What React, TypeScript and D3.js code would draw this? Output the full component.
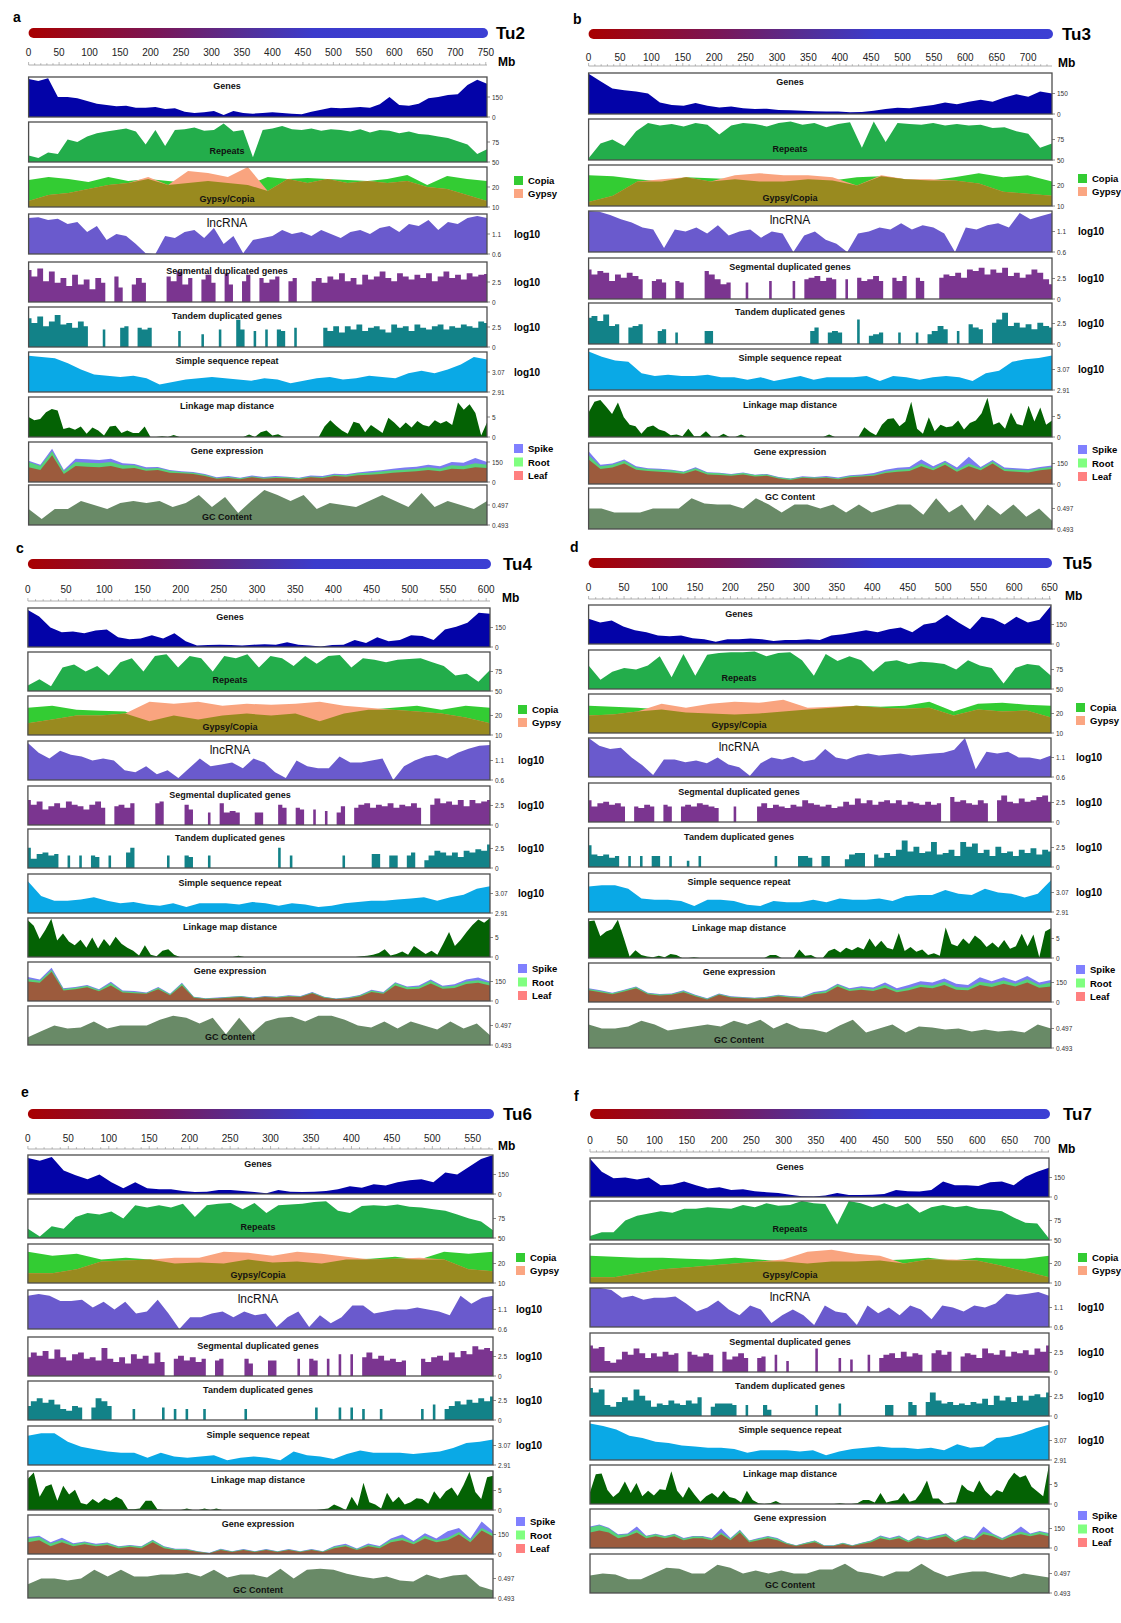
import React from 'react';
import * as d3 from 'd3';

// ---------- Tu2 (a) ----------
const tu2Genes = [285,270,290,150,150,140,120,100,90,80,85,70,70,75,60,65,40,30,35,45,15,45,30,25,30,35,30,25,20,40,55,70,65,70,75,70,95,150,90,85,100,140,150,165,170,240,280,250];
const tu2Repeats = [58,55,62,60,78,75,82,86,88,90,92,88,72,90,70,90,91,93,89,90,98,88,90,56,90,92,95,91,90,92,89,91,90,88,91,87,90,89,86,88,85,84,82,80,76,72,60,66];
const tu2Copia = [23.5,25,24,22.5,25,23,24,23,22,23,22,21,25,24,24.5,24,23.5,23,24,26,21,25.5,24,23];
const tu2Gypsy = [13,16,17,19,21,22,25,21,28,27,25,30,18,24,22,24,22,23,22,23,20,19,16,13];
const tu2Lnc = [1.5,1.52,1.45,1.48,1.35,1.4,1.15,1.3,0.95,1.1,1.05,0.85,0.62,0.6,1.05,1.0,1.15,1.2,1.0,1.25,0.85,1.05,0.62,0.95,1.0,1.05,1.2,1.1,1.15,1.05,1.2,1.1,1.0,1.15,1.2,1.1,1.25,1.3,1.15,1.35,1.3,1.45,1.2,1.4,1.35,1.5,1.55,1.5];
const tu2Seg = [4.0,3.2,4.2,2.6,3.8,2.4,3.0,2.0,3.4,2.2,2.8,1.6,3.0,2.4,0,3.2,1.8,0,2.2,3.0,2.4,0,0,0,3.2,2.6,3.8,2.2,3.0,0,2.8,3.4,2.4,0,3.6,2.2,0,2.6,3.4,0,3.0,2.4,2.8,3.2,0,2.6,3.0,0,0,2.6,3.0,2.4,3.2,2.8,3.6,2.6,3.0,2.2,3.4,2.8,3.2,3.8,3.0,2.6,3.6,3.2,2.8,3.4,3.0,3.6,2.6,3.2,3.8,3.0,3.4,2.8,3.6,3.2,3.4,3.5];
const tu2Tandem = [3.6,3.0,3.8,2.6,3.2,4.0,2.8,3.0,2.4,3.2,2.6,0,0,2.2,0,0,2.4,2.6,0,2.4,2.2,2.4,0,0,0,0,2.0,0,0,0,1.6,0,0,2.2,0,0,3.4,2.2,0,2.0,0,2.2,0,2.2,2.0,0,2.4,0,0,0,0,2.4,2.0,2.6,1.8,2.6,2.2,2.8,2.0,2.4,2.6,2.2,1.8,2.8,2.4,2.6,2.0,2.8,2.4,2.2,2.6,2.8,2.2,2.6,2.4,2.8,2.6,2.4,3.2,3.0];
const tu2Ssr = [3.20,3.19,3.18,3.14,3.09,3.05,3.04,3.03,3.04,3.02,2.97,2.99,3.01,3.02,3.03,3.02,3.01,3.00,3.02,3.01,2.98,3.00,3.02,3.03,3.01,3.02,3.04,3.03,3.02,3.06,3.08,3.06,3.09,3.13,3.19,3.17];
const tu2Link = [5.0,4.2,4.5,6.2,7.0,6.6,2.0,2.4,1.8,2.6,0.8,2.4,1.6,0.4,2.6,2.8,1.0,1.6,1.0,1.0,2.6,0,0,0.2,0,0.5,0,0,0,0,0,0,0,0,0,0,0,0,0.6,0,1.2,1.6,0.4,0.7,0,0,0,0,0,0,0,2.6,4.2,2.8,1.6,0.8,3.8,3.4,1.2,3.0,2.0,1.0,4.8,3.6,2.2,3.6,2.4,4.0,3.0,2.6,4.2,3.4,4.0,3.0,8.6,6.8,8.2,6.0,0.4,3.6];
const tu2Leaf = [110,90,200,60,120,115,110,120,100,105,85,90,70,65,60,45,25,30,20,35,25,30,28,20,35,30,45,40,50,55,60,70,75,80,90,80,100,95,110,105];
const tu2Root = [150,120,230,80,150,145,140,150,125,125,100,105,85,75,70,55,30,38,28,42,32,38,35,28,42,38,55,50,65,70,78,88,92,100,110,100,125,120,140,130];
const tu2Spike = [160,130,250,90,175,170,165,175,140,135,110,112,90,80,75,60,35,45,32,48,38,45,40,32,48,45,62,58,72,80,88,100,108,115,130,118,150,145,180,150];
const tu2Gc = [0.4962,0.4942,0.4962,0.4962,0.4978,0.497,0.4962,0.4974,0.4978,0.4974,0.4978,0.4966,0.4974,0.499,0.4966,0.4986,0.4954,0.4978,0.5,0.499,0.4978,0.499,0.4962,0.4974,0.497,0.4966,0.4978,0.499,0.4978,0.4966,0.4994,0.4966,0.4978,0.497,0.4962,0.4978];

// ---------- Tu3 (b) ----------
const tu3Genes = [294,240,186,174,165,150,84,66,60,81,60,48,54,42,36,39,30,27,24,21,18,18,12,15,24,36,45,42,54,66,84,72,90,105,90,120,144,126,165,150];
const tu3Repeats = [52,70,75,67,85,95,92,94,91,95,93,81,92,95,94,91,95,97,93,95,90,94,96,65,97,72,95,94,93,95,92,94,92,93,89,90,85,82,65,70];
const tu3Copia = [25,24.5,23,22,24,23.5,23,22,22,23,22.5,24,24.5,23,22.5,24,26,24,25,22];
const tu3Gypsy = [12,15,22,23,24,22,25,26,25,25,24,20,25,23,23,22.5,21,17,16,15];
const tu3Lnc = [1.6,1.58,1.5,1.4,1.32,1.2,1.15,0.7,1.15,1.1,1.2,1.05,1.25,1.0,1.1,1.15,0.95,1.1,1.05,0.6,1.0,1.1,0.9,0.8,0.6,1.05,1.1,1.2,1.15,1.3,1.15,1.25,1.2,1.05,0.6,1.2,1.15,1.25,1.3,1.2,1.55,1.4,1.48,1.55];
const tu3Seg = [3.6,3.0,3.4,3.2,2.2,3.0,2.6,3.2,2.8,2.4,0,2.2,2.4,2.0,0,2.2,2.0,0,0,0,3.4,3.0,2.4,1.8,2.0,0,0,2.0,0,0,0,2.2,0,0,0,2.2,0,2.4,2.6,2.8,2.2,2.6,2.4,0,2.4,0,2.6,2.2,2.4,2.8,2.2,0,2.6,2.2,2.8,0,2.6,2.2,0,0,2.6,3.0,2.8,3.2,2.6,3.6,3.4,3.8,3.0,3.6,3.2,3.8,2.8,3.2,2.6,3.0,3.6,3.2,2.4,1.8];
const tu3Tandem = [3.2,3.4,2.8,3.6,2.2,2.4,0,2.0,2.2,2.4,0,0,1.6,1.8,0,1.4,0,0,0,0,1.6,1.6,0,0,0,0,0,0,0,0,0,0,0,0,0,0,0,0,1.6,2.0,0,1.4,1.6,1.4,0,0,3.0,0,1.0,1.2,1.4,0,0,1.4,0,0,1.4,0,1.2,1.6,2.2,1.8,0,1.6,0,2.4,2.0,1.8,0,2.6,3.0,3.8,2.2,2.6,2.0,2.4,1.8,2.6,2.2,2.0];
const tu3Ssr = [3.21,3.17,3.14,3.13,3.04,3.02,3.03,3.02,3.02,3.03,3.01,3.01,2.99,3.01,2.98,3.0,3.02,2.99,3.01,3.01,3.01,3.02,2.98,3.02,3.01,2.99,3.01,3.02,3.01,2.98,3.04,3.06,3.13,3.15,3.16,3.18];
const tu3Link = [6.0,8.6,9.0,7.4,5.6,8.4,4.8,3.0,2.6,0.8,2.4,2.8,1.8,1.4,0.4,0.6,0.2,2.0,0.2,0.2,1.4,0,0,0.8,0,0,0.6,0,0,0,0,0,0,0,0,0,0,0,0,0,0,0.6,0,0,0,0,0,2.4,1.2,0.4,3.0,4.4,4.6,2.6,3.8,8.6,2.0,0.8,4.8,1.4,3.0,2.4,2.6,4.0,1.8,3.4,4.0,5.8,9.6,3.0,3.6,2.0,6.0,3.2,2.8,7.6,3.8,7.2,3.0,4.0];
const tu3Leaf = [180,110,120,150,105,95,90,85,75,100,70,65,60,70,55,60,40,30,45,40,45,35,50,55,60,80,90,95,130,100,140,90,130,100,150,95,90,85,100,110];
const tu3Root = [210,130,140,170,120,110,105,100,88,115,82,78,70,80,65,70,48,38,52,48,52,42,58,62,70,92,105,110,150,115,160,105,150,115,165,110,105,100,115,125];
const tu3Spike = [240,140,150,180,130,115,112,105,92,122,86,82,74,84,68,74,52,40,56,52,58,48,64,70,80,105,118,125,180,130,170,120,200,125,175,120,115,110,125,135];
const tu3Gc = [0.497,0.497,0.4962,0.4962,0.4962,0.497,0.497,0.497,0.499,0.498,0.4978,0.4978,0.497,0.499,0.4978,0.4962,0.4978,0.4978,0.497,0.4978,0.4962,0.4978,0.4962,0.497,0.4978,0.4978,0.4958,0.499,0.4962,0.4978,0.4946,0.4978,0.4958,0.4978,0.4954,0.497,0.4946];

// ---------- Tu4 (c) ----------
const tu4Genes = [285,234,150,114,120,105,126,135,75,60,66,90,66,105,45,12,15,18,15,12,18,21,18,36,18,12,3,15,18,54,30,75,45,54,90,84,54,135,156,186,264,255];
const tu4Repeats = [57,65,56,80,84,75,82,70,87,92,75,95,97,80,95,92,75,95,92,97,80,95,92,82,95,85,95,96,80,92,90,87,90,91,92,87,82,70,72,62,77];
const tu4Copia = [24,25,23,22.5,22,17,20,18,20,21,20,21,17,21,23,24,25,23,25,24];
const tu4Gypsy = [16,18,20,20,21,27,26,27,25,26,25.5,26,27,25,24,23,22,21,19,16];
const tu4Lnc = [1.55,1.3,1.15,1.35,1.25,1.2,1.1,1.15,1.1,0.85,0.8,0.95,0.75,0.85,0.65,0.9,1.15,0.95,1.0,1.05,0.9,1.15,1.05,0.8,0.65,1.1,0.95,0.9,0.9,1.2,1.05,1.05,1.1,1.15,0.6,0.95,1.1,1.2,1.25,1.15,1.3,1.4,1.48,1.5];
const tu4Seg = [3.2,2.6,3.0,2.0,2.4,2.8,2.2,3.0,2.6,2.4,2.0,2.6,3.0,2.2,0,2.4,2.6,2.2,2.8,0,0,0,2.8,3.0,0,0,0,2.6,2.0,0,0,1.6,0,2.8,1.6,1.8,1.6,0,0,1.6,1.6,0,0,2.6,2.2,0,2.2,2.0,0,2.0,0,1.8,0,1.6,2.4,0,2.2,2.6,2.8,2.2,2.6,2.4,2.8,2.2,2.6,2.4,2.8,2.2,0,2.6,3.4,2.8,3.0,2.6,3.2,2.4,3.2,2.8,3.0,3.2];
const tu4Tandem = [2.6,1.2,1.8,2.0,1.6,1.8,0,1.6,0,1.6,0,1.6,1.4,0,1.6,0,0,2.0,2.6,0,0,0,0,0,1.6,0,0,1.6,1.4,0,0,1.6,0,0,0,0,0,0,0,0,0,0,0,2.6,0,1.6,0,0,0,0,0,0,0,0,1.6,0,0,0,0,1.8,1.8,0,1.6,1.6,0,1.6,2.0,0,1.0,1.6,2.2,2.0,1.6,2.0,1.4,2.2,2.0,2.4,2.2,3.0];
const tu4Ssr = [3.17,3.05,3.01,3.01,3.02,3.04,3.01,2.99,3.0,2.98,2.97,2.99,2.96,2.99,2.99,2.99,2.98,3.0,2.99,2.97,2.99,2.98,2.96,2.97,2.99,3.0,3.01,3.01,3.02,3.03,3.04,3.01,3.04,3.06,3.11,3.13];
const tu4Link = [9.4,8.0,4.6,7.0,9.8,4.2,6.0,4.0,3.0,4.4,2.4,5.0,2.2,4.6,2.8,5.2,3.4,2.4,1.6,0.4,3.0,0.6,0.2,1.6,2.0,0.6,0,0,0,0,0,0,0,0,0,0,0.3,0,0,0,0,0,0,0,0,0,0,0,0,0,0,0,0,0,0,0,0,0.2,0.3,0.6,1.0,2.0,0.4,0.8,1.4,0.6,2.8,1.8,0.8,1.6,0.6,3.4,6.4,2.8,4.4,6.4,8.2,9.6,8.8,10.0];
const tu4Leaf = [150,140,225,80,90,105,75,120,65,60,55,90,45,120,25,15,20,25,30,20,30,25,35,30,60,25,15,20,35,70,55,120,90,95,135,95,100,130,140,120];
const tu4Root = [170,155,240,92,102,118,85,138,75,70,62,102,52,135,30,20,24,30,36,24,35,30,40,35,66,30,18,25,42,80,64,138,105,110,155,110,118,150,160,140];
const tu4Spike = [185,165,255,98,108,124,90,148,80,76,66,108,56,140,33,22,27,32,38,26,38,32,44,38,70,33,20,28,46,86,70,145,112,120,165,118,128,165,180,150];
const tu4Gc = [0.4946,0.4958,0.497,0.4964,0.4966,0.4978,0.4964,0.497,0.497,0.497,0.4982,0.499,0.4986,0.4974,0.4986,0.4952,0.4986,0.4954,0.4978,0.4986,0.4988,0.4978,0.499,0.499,0.4982,0.497,0.4966,0.4978,0.4964,0.4978,0.497,0.4962,0.4978,0.4964,0.4974,0.495];

// ---------- Tu5 (d) ----------
const tu5Genes = [195,165,180,135,105,90,66,60,66,45,36,18,36,36,42,36,24,30,30,36,30,66,75,90,105,90,114,126,90,150,165,225,165,114,210,195,150,210,165,186,294];
const tu5Repeats = [80,62,72,77,75,80,92,65,95,67,94,96,97,97,98,92,96,97,87,67,95,86,92,87,72,85,87,82,85,84,82,75,87,80,77,57,77,82,80,67];
const tu5Copia = [24,23.5,23,22,20.5,20,19.5,20,21,22,23,24,23.5,24,26,21,25,25.5,24.5,24];
const tu5Gypsy = [19,19.5,21,25,23,25,26,25.5,27,23,23.5,24,23,22.5,23,19,22,21,21.5,18];
const tu5Lnc = [1.6,1.4,1.32,1.35,1.1,0.9,0.65,1.05,1.05,0.98,1.02,0.95,1.1,0.92,0.85,0.63,0.95,1.1,1.05,1.12,1.0,1.05,1.32,1.1,1.05,1.15,1.2,1.15,1.18,1.2,1.15,1.18,1.2,1.22,1.3,1.6,0.8,1.25,1.2,1.25,1.1,1.1,1.05,1.15];
const tu5Seg = [2.8,2.0,2.4,2.6,2.2,2.4,2.0,0,2.0,1.8,2.2,2.0,0,2.2,2.0,0,2.0,2.2,2.0,2.4,2.2,2.0,1.8,0,0,2.0,0,0,0,2.0,2.4,1.8,2.2,2.0,1.8,2.2,2.0,2.8,2.4,2.2,2.0,2.2,1.8,2.0,2.6,2.2,3.0,2.4,2.8,2.2,2.6,2.8,2.4,2.8,2.2,2.6,2.4,2.2,2.6,2.2,2.4,0,3.2,2.6,2.8,2.4,2.2,2.8,2.4,0,2.8,3.4,2.6,2.4,3.0,2.6,2.8,3.2,3.4,2.6];
const tu5Tandem = [2.8,1.6,1.4,1.6,1.2,1.4,0,1.4,0,1.4,0,1.4,1.4,0,1.4,0,0,0.8,0,1.4,0,0,0,0,0,0,0,0,0,0,0,0,1.4,0,0,0,1.4,1.4,1.2,0,1.4,1.4,0,0,1.0,1.6,1.8,1.8,0,1.6,1.2,1.8,1.4,2.2,3.4,2.0,2.6,1.8,2.0,3.2,1.6,1.8,2.2,1.4,3.2,2.6,3.0,1.8,2.2,1.4,2.6,1.8,2.0,1.4,2.2,1.8,2.4,1.6,2.2,2.0];
const tu5Ssr = [3.12,3.13,3.13,3.10,3.02,3.01,3.01,3.0,2.96,3.01,3.01,3.0,2.97,2.96,3.0,2.99,2.99,3.01,2.99,3.02,3.01,3.01,3.02,3.0,3.04,3.05,3.05,3.09,3.06,3.05,3.10,3.07,3.06,3.03,3.06,3.17];
const tu5Link = [9.4,9.6,5.6,6.8,7.4,9.8,5.2,0.4,2.0,0.8,0.4,0.2,0.6,0.2,1.0,0.8,0,0,0.2,0,0,0,0,0,0,0,0,0,0,0,0,0.8,0.8,0,0,0,2.2,0.6,0.8,0,0,1.8,2.4,1.4,2.6,2.0,2.8,2.2,5.0,2.8,4.4,2.6,2.2,6.4,1.8,2.8,1.6,2.2,0.8,1.2,0.6,7.8,3.6,3.0,5.0,3.6,5.8,4.6,2.8,4.0,2.6,4.6,2.4,3.0,6.2,3.0,6.0,0.2,6.8,7.6];
const tu5Leaf = [90,75,60,80,105,60,50,55,75,45,20,55,35,30,25,30,45,35,30,60,70,120,85,95,85,110,75,90,115,105,130,95,90,130,115,140,120,150,110,120];
const tu5Root = [100,85,68,90,115,68,58,62,85,52,25,62,40,35,30,36,52,42,36,70,82,135,98,110,100,130,90,110,135,125,155,115,110,155,140,165,140,175,130,150];
const tu5Spike = [105,90,72,95,120,72,62,66,90,56,28,66,44,38,33,40,56,46,40,76,90,140,105,122,112,150,105,130,160,150,180,140,130,190,160,190,160,200,150,170];
const tu5Gc = [0.4978,0.497,0.497,0.4974,0.4986,0.4978,0.4966,0.497,0.4974,0.4978,0.4974,0.4986,0.4978,0.4988,0.497,0.4982,0.497,0.4968,0.4962,0.4976,0.4988,0.4962,0.497,0.4978,0.4962,0.4974,0.4972,0.4968,0.497,0.4964,0.4968,0.4964,0.4966,0.4962,0.4978,0.497];

// ---------- Tu6 (e) ----------
const tu6Genes = [276,255,285,180,144,114,150,90,45,90,45,36,36,24,15,18,30,30,24,15,6,30,18,15,18,24,36,60,48,75,66,90,105,114,90,165,150,210,270,300];
const tu6Repeats = [62,52,65,62,77,82,80,84,75,92,89,92,89,94,77,92,94,95,87,95,82,92,93,94,96,97,85,82,91,92,91,93,90,89,87,85,80,75,71,60];
const tu6Copia = [26,24,25,22,23,22,20,20.5,20,22,20.5,21,20,22,22.5,23.5,22,26,25,26];
const tu6Gypsy = [15,15,17,21,21.5,22,23,23,26,25.5,24,26,25,23.5,22,22.5,23,22,17,16];
const tu6Lnc = [1.45,1.5,1.45,1.32,1.32,1.35,1.15,1.3,1.1,1.3,1.0,1.05,1.35,1.0,0.6,0.9,0.9,1.0,1.05,0.9,1.05,0.95,1.0,0.65,0.9,1.05,0.65,0.95,0.75,0.9,1.2,1.2,1.0,1.05,1.1,1.1,1.15,1.1,1.05,0.95,1.45,1.25,1.4,1.45];
const tu6Seg = [2.4,3.0,2.6,3.2,2.2,3.4,2.4,2.0,2.8,3.0,2.2,2.4,2.0,3.6,2.2,1.8,2.4,1.6,2.8,2.2,2.6,1.6,3.0,1.8,0,2.2,2.6,2.0,2.4,1.8,2.2,0,2.0,2.2,0,0,0,2.2,1.6,0,0,2.0,2.0,0,0,0,2.2,0,2.2,2.0,0,2.2,0,2.8,0,2.8,0,2.4,3.0,2.2,2.6,2.0,2.2,1.8,2.0,0,0,2.2,1.8,2.4,2.6,2.0,3.0,2.4,3.2,2.8,3.8,3.4,3.6,3.2];
const tu6Tandem = [1.8,2.4,2.8,2.2,2.6,2.0,1.4,1.2,1.8,1.6,0,1.6,2.8,2.4,1.8,0,0,0,1.4,0,0,0,0,1.6,0,1.4,0,1.4,0,0,1.4,0,0,0,0,0,0,1.4,0,0,0,0,0,0,0,0,0,0,0,1.6,0,0,0,1.6,0,1.6,0,1.4,0,0,1.4,0,0,0,0,0,0,1.4,0,2.0,0,1.4,1.8,2.4,2.0,2.6,2.2,2.8,2.4,3.0];
const tu6Ssr = [3.15,3.17,3.17,3.10,3.06,3.04,3.02,3.01,3.01,2.97,3.01,2.98,2.97,2.98,2.99,2.95,2.97,2.98,2.97,2.95,3.02,2.99,2.98,2.96,3.0,3.03,3.01,3.01,3.01,3.0,3.01,3.02,3.05,3.09,3.10,3.12];
const tu6Link = [8.0,9.6,3.4,6.0,6.6,2.4,6.2,4.0,5.2,1.8,1.4,2.8,1.8,3.0,2.4,3.4,2.6,0.2,0.2,0.4,2.4,2.4,0.2,0,0,0,0,0.4,0,0,0.4,0,0.4,0,0,0,0,0,0,0,0,0,0,0,0,0,0,0,0,0,0.2,0.4,1.4,0.8,0,3.4,1.0,7.0,2.0,1.4,0.4,4.4,2.0,3.4,1.4,2.0,3.0,2.8,1.6,4.8,2.8,4.8,5.8,3.6,6.4,9.8,4.6,2.8,8.4,8.8];
const tu6Leaf = [90,105,60,90,60,75,60,70,45,55,45,90,45,30,30,15,5,30,15,30,15,30,15,30,15,30,15,45,60,30,60,45,90,105,75,120,90,105,150,90,180,135];
const tu6Root = [120,130,80,110,75,90,72,82,55,65,55,105,55,36,36,20,8,36,20,35,20,35,20,35,20,35,20,55,70,38,72,55,108,125,90,140,105,125,170,105,200,155];
const tu6Spike = [130,140,90,125,82,96,78,88,60,70,60,110,60,40,40,22,10,40,22,38,22,38,22,38,22,38,22,62,78,42,80,62,120,150,100,160,120,175,200,120,250,175];
const tu6Gc = [0.4958,0.497,0.497,0.4966,0.497,0.4988,0.4974,0.4988,0.4974,0.4974,0.4978,0.4978,0.4982,0.4974,0.4988,0.4972,0.4978,0.4978,0.4972,0.499,0.497,0.4988,0.499,0.4988,0.498,0.4974,0.497,0.4974,0.4966,0.4964,0.4978,0.497,0.4976,0.4978,0.4954,0.4946];

// ---------- Tu7 (f) ----------
const tu7Genes = [294,195,144,150,135,150,90,96,120,90,66,75,54,60,45,36,30,18,6,3,12,30,15,15,18,24,54,45,42,54,120,90,90,84,114,120,90,156,195,225];
const tu7Repeats = [55,60,60,75,81,84,87,85,90,90,92,91,90,95,92,97,94,95,100,97,96,70,100,97,92,97,92,97,85,92,95,92,94,90,89,87,79,72,71,52];
const tu7Copia = [24,23.5,23,23,22.5,22,23,22,21,20,21,21,21.5,22,23,21.5,23,22.5,22.5,24];
const tu7Gypsy = [13,13,15,17,18,19,20,21,22,26,27,25,24,20,22,22,21.5,19,16,13];
const tu7Lnc = [1.6,1.6,1.55,1.35,1.4,1.3,1.35,1.35,1.38,1.2,1.0,1.1,1.28,1.05,0.9,1.15,1.05,0.7,0.9,1.05,0.9,0.65,1.15,1.0,0.95,0.65,1.15,0.95,1.1,0.9,1.15,1.05,0.8,1.15,1.1,1.0,1.15,1.1,1.2,1.45,1.42,1.45,1.5,1.4];
const tu7Seg = [3.4,3.0,3.2,1.4,1.2,1.6,2.6,2.2,3.0,2.4,1.8,2.4,2.0,2.6,2.2,2.4,0,2.6,2.2,2.0,2.4,2.2,0,2.6,1.6,2.0,2.4,1.8,0,1.8,2.0,0,2.2,0,1.4,0,0,0,0,3.0,0,0,0,1.8,0,1.6,0,0,2.2,0,1.8,2.2,2.4,1.8,2.6,2.0,2.4,2.2,0,2.4,2.8,2.2,2.6,0,2.0,2.4,2.2,1.8,3.0,2.4,2.2,2.8,2.0,2.6,2.4,2.8,2.2,3.0,2.6,3.4];
const tu7Tandem = [3.6,3.0,3.4,1.4,1.2,1.8,2.4,2.0,3.4,2.6,2.0,1.2,1.6,1.4,2.0,1.6,1.4,2.0,1.6,2.4,0,1.2,1.6,1.6,1.6,1.4,0,1.4,0,0,1.4,0.8,0,0,0,0,0,0,0,1.4,0,0,0,1.6,0,0,0,0,0,0,0,1.4,1.4,0,0,1.8,1.4,0,1.8,3.0,2.0,1.6,1.8,1.4,1.6,1.4,1.8,1.6,2.2,1.4,2.6,2.0,2.4,1.8,2.6,2.0,2.6,2.8,2.4,3.0];
const tu7Ssr = [3.21,3.19,3.16,3.11,3.09,3.06,3.05,3.03,3.02,3.01,3.01,3.0,2.97,2.99,2.99,2.99,2.98,2.99,2.95,2.98,3.0,3.01,3.02,3.01,3.01,3.0,3.01,2.99,3.04,3.01,3.02,3.09,3.10,3.13,3.17,3.20];
const tu7Link = [3.0,7.6,7.8,3.6,1.8,3.0,5.8,2.8,5.4,2.0,3.4,2.2,3.8,3.6,8.4,3.4,1.6,4.4,2.4,0.6,2.0,2.8,1.6,3.4,1.8,1.4,0.4,3.4,1.0,0.2,0,0.2,0.8,0,0,0,0,0,0,0,0,0,0,0.2,0,0,0.2,1.0,1.0,0.4,2.8,0.4,0.8,1.0,2.8,0.6,1.0,3.0,6.0,1.4,1.4,0,0.4,0.4,5.0,3.6,3.0,6.0,3.4,2.0,3.6,3.0,6.0,8.0,6.8,7.4,4.4,3.2,2.0,10.0];
const tu7Leaf = [120,135,120,75,90,120,75,90,75,90,60,75,75,60,105,60,120,45,60,75,60,30,15,30,45,15,15,30,15,30,45,75,60,75,45,75,60,75,90,45,75,60,105,90,60,90,105,90,105,90];
const tu7Root = [160,175,150,100,105,140,90,105,88,105,72,88,88,72,120,72,135,55,72,88,72,38,20,38,55,20,20,38,20,38,55,90,72,90,55,90,72,90,105,55,90,72,125,105,72,105,125,105,125,110];
const tu7Spike = [165,180,155,105,112,165,95,110,92,110,76,92,92,76,150,76,140,58,76,92,76,40,22,40,58,22,22,40,22,40,58,96,76,96,58,96,76,96,112,58,96,76,165,112,76,112,165,112,130,115];
const tu7Gc = [0.4966,0.497,0.4968,0.4958,0.4958,0.497,0.4982,0.498,0.497,0.497,0.4988,0.4982,0.497,0.4976,0.497,0.4976,0.497,0.497,0.4978,0.4978,0.499,0.4974,0.497,0.4964,0.4974,0.4974,0.499,0.4974,0.4964,0.497,0.4974,0.4974,0.4968,0.4962,0.497,0.4966,0.4962];

const FONT = "'Liberation Sans', Arial, Helvetica, sans-serif";

// track scales: bottom value, middle tick value (top = 2*mid - bottom)
const tracks = [
  { lo: 0, mid: 150, midLabel: '150', loLabel: '0', title: 'Genes', where: 'top' },
  { lo: 50, mid: 75, midLabel: '75', loLabel: '50', title: 'Repeats', where: 'bottom' },
  { lo: 10, mid: 20, midLabel: '20', loLabel: '10', title: 'Gypsy/Copia', where: 'bottom' },
  { lo: 0.6, mid: 1.1, midLabel: '1.1', loLabel: '0.6', title: 'lncRNA', where: 'top', log: true },
  { lo: 0, mid: 2.5, midLabel: '2.5', loLabel: '0', title: 'Segmental duplicated genes', where: 'top', log: true },
  { lo: 0, mid: 2.5, midLabel: '2.5', loLabel: '0', title: 'Tandem duplicated genes', where: 'top', log: true },
  { lo: 2.91, mid: 3.07, midLabel: '3.07', loLabel: '2.91', title: 'Simple sequence repeat', where: 'top', log: true },
  { lo: 0, mid: 5, midLabel: '5', loLabel: '0', title: 'Linkage map distance', where: 'top' },
  { lo: 0, mid: 150, midLabel: '150', loLabel: '0', title: 'Gene expression', where: 'top' },
  { lo: 0.493, mid: 0.497, midLabel: '0.497', loLabel: '0.493', title: 'GC Content', where: 'bottom' },
];

const col = {
  genes: '#0303a8', repeats: '#23ad4b', copia: '#33cc33', gypsy: '#f9a47f', olive: '#998a1f',
  lnc: '#6a5acd', seg: '#7b3590', tandem: '#128288', ssr: '#0aa9e6', link: '#046204',
  spike: '#7b7bf2', root: '#56d27a', leaf: '#9c5b3d', gc: '#698a67',
};

const panels = [
  { letter: 'a', name: 'Tu2', length: 752, letterX: 13, letterY: 17, barY: 28, nameX: 496, mbX: 498, tickY: 52, axisY: 65, x0: 28.6, x1: 487,
    tops: [77, 122, 167, 214, 262, 307, 352, 397, 442, 485], h: 40, titleX: 227, legendX: 514, gcTop: false,
    genes: tu2Genes, repeats: tu2Repeats, copia: tu2Copia, gypsy: tu2Gypsy, lnc: tu2Lnc, seg: tu2Seg, tandem: tu2Tandem, ssr: tu2Ssr, link: tu2Link, leaf: tu2Leaf, root: tu2Root, spike: tu2Spike, gc: tu2Gc },
  { letter: 'b', name: 'Tu3', length: 738, letterX: 573, letterY: 19, barY: 29, nameX: 1062, mbX: 1058, tickY: 57, axisY: 66, x0: 588.6, x1: 1052,
    tops: [73, 119, 165, 211, 258, 303, 349, 396, 443, 488], h: 41, titleX: 790, legendX: 1078, gcTop: true,
    genes: tu3Genes, repeats: tu3Repeats, copia: tu3Copia, gypsy: tu3Gypsy, lnc: tu3Lnc, seg: tu3Seg, tandem: tu3Tandem, ssr: tu3Ssr, link: tu3Link, leaf: tu3Leaf, root: tu3Root, spike: tu3Spike, gc: tu3Gc },
  { letter: 'c', name: 'Tu4', length: 605, letterX: 16, letterY: 548, barY: 559, nameX: 503, mbX: 502, tickY: 589, axisY: 601, x0: 27.9, x1: 490,
    tops: [608, 652, 696, 741, 786, 829, 874, 918, 962, 1006], h: 39, titleX: 230, legendX: 518, gcTop: false,
    genes: tu4Genes, repeats: tu4Repeats, copia: tu4Copia, gypsy: tu4Gypsy, lnc: tu4Lnc, seg: tu4Seg, tandem: tu4Tandem, ssr: tu4Ssr, link: tu4Link, leaf: tu4Leaf, root: tu4Root, spike: tu4Spike, gc: tu4Gc },
  { letter: 'd', name: 'Tu5', length: 652, letterX: 570, letterY: 547, barY: 558, nameX: 1063, mbX: 1065, tickY: 587, axisY: 599, x0: 588.6, x1: 1051,
    tops: [605, 650, 694, 738, 783, 828, 873, 919, 963, 1009], h: 39, titleX: 739, legendX: 1076, gcTop: false,
    genes: tu5Genes, repeats: tu5Repeats, copia: tu5Copia, gypsy: tu5Gypsy, lnc: tu5Lnc, seg: tu5Seg, tandem: tu5Tandem, ssr: tu5Ssr, link: tu5Link, leaf: tu5Leaf, root: tu5Root, spike: tu5Spike, gc: tu5Gc },
  { letter: 'e', name: 'Tu6', length: 575, letterX: 21, letterY: 1092, barY: 1109, nameX: 503, mbX: 498, tickY: 1138, axisY: 1149, x0: 27.9, x1: 493,
    tops: [1155, 1199, 1244, 1290, 1337, 1381, 1426, 1471, 1515, 1559], h: 39, titleX: 258, legendX: 516, gcTop: false,
    genes: tu6Genes, repeats: tu6Repeats, copia: tu6Copia, gypsy: tu6Gypsy, lnc: tu6Lnc, seg: tu6Seg, tandem: tu6Tandem, ssr: tu6Ssr, link: tu6Link, leaf: tu6Leaf, root: tu6Root, spike: tu6Spike, gc: tu6Gc },
  { letter: 'f', name: 'Tu7', length: 711, letterX: 574, letterY: 1096, barY: 1109, nameX: 1063, mbX: 1058, tickY: 1140, axisY: 1152, x0: 590, x1: 1049,
    tops: [1158, 1201, 1244, 1288, 1333, 1377, 1421, 1465, 1509, 1554], h: 39, titleX: 790, legendX: 1078, gcTop: false,
    genes: tu7Genes, repeats: tu7Repeats, copia: tu7Copia, gypsy: tu7Gypsy, lnc: tu7Lnc, seg: tu7Seg, tandem: tu7Tandem, ssr: tu7Ssr, link: tu7Link, leaf: tu7Leaf, root: tu7Root, spike: tu7Spike, gc: tu7Gc },
];

type P = typeof panels[number];

const Panel = ({ p }: { p: P }) => {
  const x = d3.scaleLinear().domain([0, p.length]).range([p.x0, p.x1]);
  const yOf = (t: number) => {
    const d = tracks[t];
    return d3.scaleLinear().domain([d.lo, 2 * d.mid - d.lo]).range([p.tops[t] + p.h, p.tops[t]]).clamp(true);
  };
  const area = (vals: number[], t: number) => {
    const y = yOf(t);
    const n = vals.length;
    return d3.area<number>()
      .x((_, i) => x((i / (n - 1)) * p.length))
      .y0(p.tops[t] + p.h)
      .y1(v => y(v))(vals) || '';
  };
  // binned counts: step outline; a bin standing alone (or ending a run) is drawn narrower
  const bins = (vals: number[], t: number) => {
    const y = yOf(t);
    const step = p.length / (vals.length - 1);
    const pts: [number, number][] = [[0, 0]];
    vals.forEach((v, i) => {
      if (v <= 0) return;
      const c = i * step;
      const prev = i > 0 && vals[i - 1] > 0;
      const next = i < vals.length - 1 && vals[i + 1] > 0;
      const xl = Math.max(0, c - (prev ? 0.5 : 0.22) * step);
      const xr = Math.min(p.length, c + (next ? 0.5 : 0.22) * step);
      if (!prev) pts.push([xl, 0]);
      pts.push([xl, v], [xr, v]);
      if (!next) pts.push([xr, 0]);
    });
    pts.push([p.length, 0]);
    return d3.area<[number, number]>()
      .x(d => x(d[0]))
      .y0(p.tops[t] + p.h)
      .y1(d => y(d[1]))(pts) || '';
  };
  const teMin = p.copia.map((c, i) => Math.min(c, p.gypsy[i]));
  const majors = d3.range(0, p.length + 0.01, 50);
  const minors = d3.range(0, p.length, 10);

  const fills: [string, string][][] = [
    [[area(p.genes, 0), col.genes]],
    [[area(p.repeats, 1), col.repeats]],
    [[area(p.copia, 2), col.copia], [area(p.gypsy, 2), col.gypsy], [area(teMin, 2), col.olive]],
    [[area(p.lnc, 3), col.lnc]],
    [[bins(p.seg, 4), col.seg]],
    [[bins(p.tandem, 5), col.tandem]],
    [[area(p.ssr, 6), col.ssr]],
    [[area(p.link, 7), col.link]],
    [[area(p.spike, 8), col.spike], [area(p.root, 8), col.root], [area(p.leaf, 8), col.leaf]],
    [[area(p.gc, 9), col.gc]],
  ];

  return (
    <g fontFamily={FONT}>
      <text x={p.letterX} y={p.letterY} fontSize={14} fontWeight="bold" dominantBaseline="central">{p.letter}</text>
      <rect x={p.x0} y={p.barY} width={p.x1 - p.x0 + 1} height={10} rx={5} fill="url(#tuGrad)" />
      <text x={p.nameX} y={p.barY + 5} fontSize={17} fontWeight="bold" dominantBaseline="central">{p.name}</text>

      {majors.map(m => (
        <text key={'t' + m} x={x(m)} y={p.tickY} fontSize={10} textAnchor="middle" dominantBaseline="central" fill="#222">{m}</text>
      ))}
      <line x1={p.x0} x2={p.x1} y1={p.axisY} y2={p.axisY} stroke="#999" strokeWidth={0.8} />
      {minors.map(m => (
        <line key={'m' + m} x1={x(m)} x2={x(m)} y1={p.axisY} y2={p.axisY - (m % 50 === 0 ? 3 : 1.8)} stroke="#999" strokeWidth={0.7} />
      ))}
      <text x={p.mbX} y={p.axisY - 3} fontSize={12} fontWeight="bold" dominantBaseline="central">Mb</text>

      {tracks.map((d, t) => {
        const top = p.tops[t];
        const bottom = top + p.h;
        const y = yOf(t);
        const atTop = t === 9 ? p.gcTop : d.where === 'top';
        const titleY = atTop ? top + 9 : bottom - (t === 1 ? 11 : 8);
        return (
          <g key={t}>
            {fills[t].map(([path, c], k) => (
              <path key={k} d={path} fill={c} />
            ))}
            <rect x={p.x0} y={top} width={p.x1 - p.x0} height={p.h} fill="none" stroke="#4d4d4d" strokeWidth={1.3} />
            <text x={p.titleX} y={titleY} fontSize={t === 3 ? 12 : 9} fontWeight={t === 3 ? 'normal' : 'bold'}
              textAnchor="middle" dominantBaseline="central" fill="#111">{d.title}</text>
            {[[d.mid, d.midLabel], [d.lo, d.loLabel]].map(([v, lab]) => (
              <g key={lab as string}>
                <line x1={p.x1} x2={p.x1 + 3} y1={y(v as number)} y2={y(v as number)} stroke="#555" strokeWidth={0.7} />
                <text x={p.x1 + 5} y={y(v as number)} fontSize={6.5} dominantBaseline="central" fill="#333">{lab}</text>
              </g>
            ))}
            {d.log && (
              <text x={p.legendX} y={y(d.mid)} fontSize={10} fontWeight="bold" dominantBaseline="central">log10</text>
            )}
          </g>
        );
      })}

      {[['Copia', col.copia], ['Gypsy', '#fba682']].map(([lab, c], i) => (
        <g key={lab}>
          <rect x={p.legendX} y={p.tops[2] + 9 + i * 13} width={9} height={9} fill={c} />
          <text x={p.legendX + 14} y={p.tops[2] + 13.5 + i * 13} fontSize={9.5} fontWeight="bold" dominantBaseline="central">{lab}</text>
        </g>
      ))}
      {[['Spike', '#8080ff'], ['Root', '#80ff80'], ['Leaf', '#ff8080']].map(([lab, c], i) => (
        <g key={lab}>
          <rect x={p.legendX} y={p.tops[8] + 2 + i * 13.5} width={9} height={9} fill={c} />
          <text x={p.legendX + 14} y={p.tops[8] + 6.5 + i * 13.5} fontSize={9.5} fontWeight="bold" dominantBaseline="central">{lab}</text>
        </g>
      ))}
    </g>
  );
};

export default function App() {
  return (
    <div style={{ position: 'absolute', left: 0, top: 0 }}>
      <svg width={1121} height={1623} style={{ display: 'block', background: '#fff' }}>
        <defs>
          <linearGradient id="tuGrad" x1="0" x2="1" y1="0" y2="0">
            <stop offset="0" stopColor="#a80000" />
            <stop offset="0.28" stopColor="#7a1656" />
            <stop offset="0.48" stopColor="#52309a" />
            <stop offset="0.62" stopColor="#3b3bcc" />
            <stop offset="1" stopColor="#3c3fd4" />
          </linearGradient>
        </defs>
        {panels.map(p => <Panel key={p.letter} p={p} />)}
      </svg>
    </div>
  );
}
